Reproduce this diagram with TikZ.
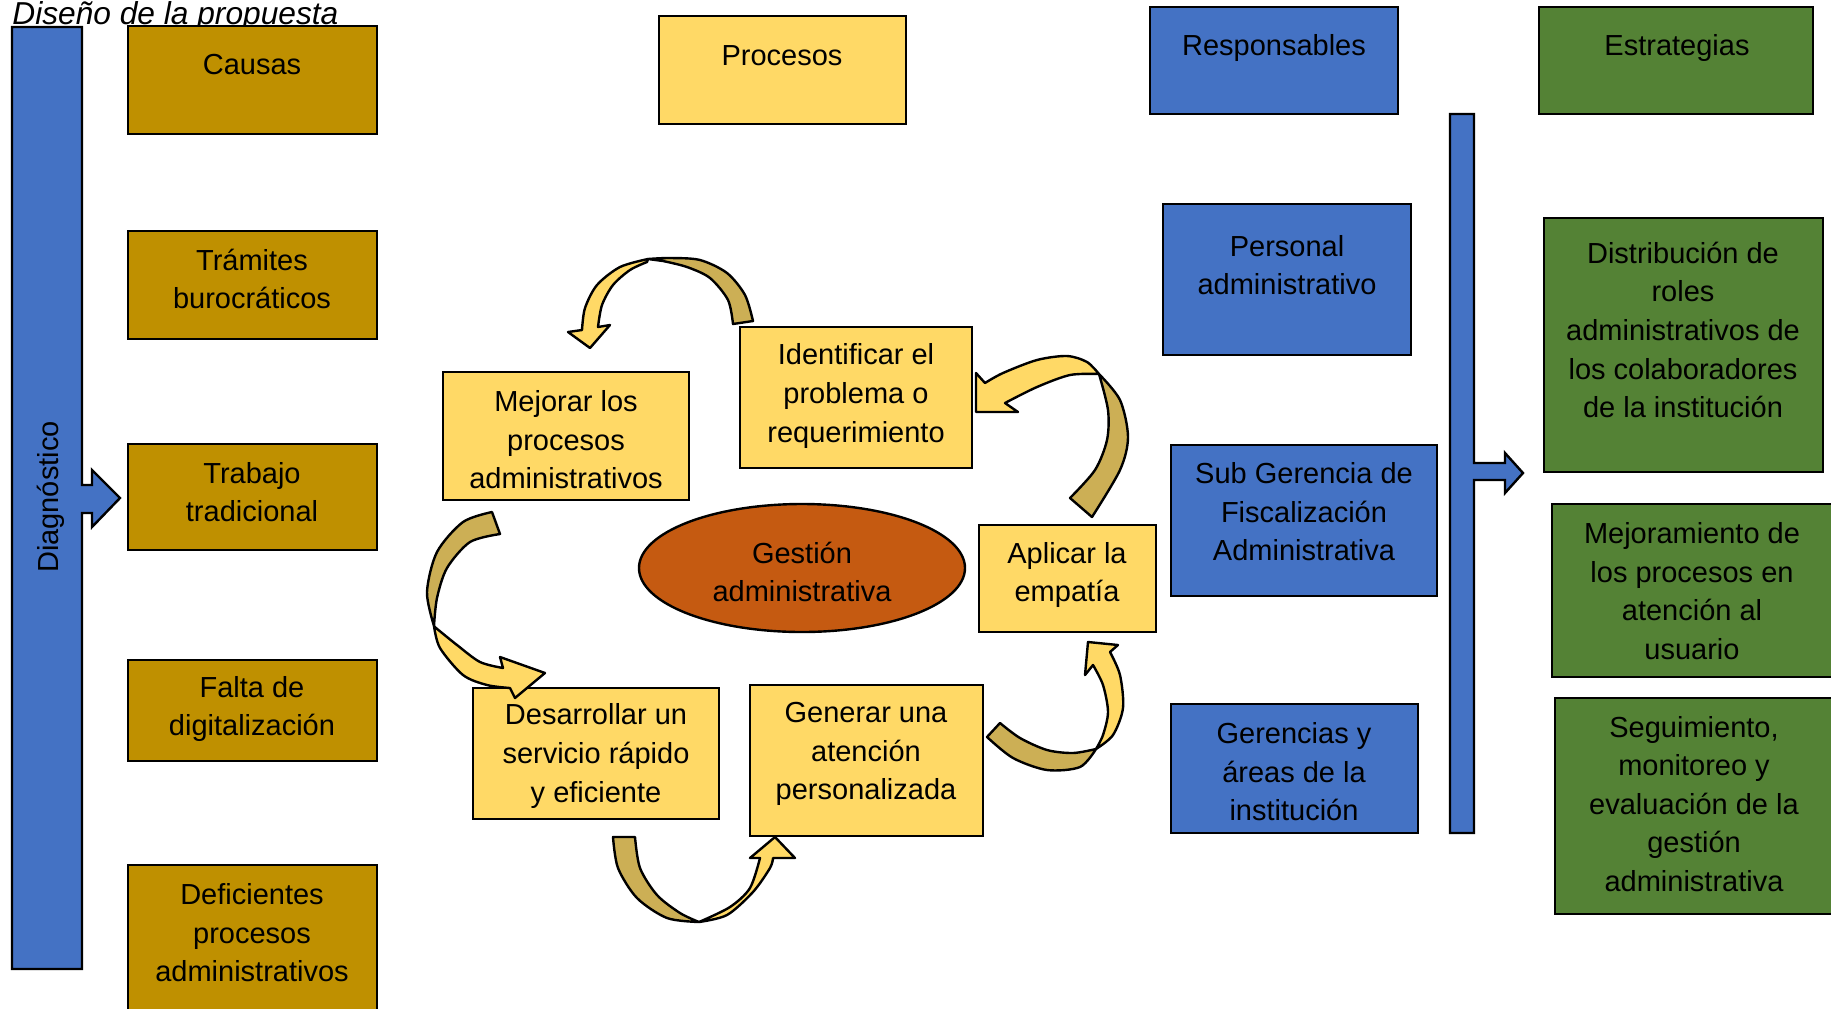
\documentclass[tikz,border=0pt]{standalone}
\usepackage{fontspec}
\setmainfont{Liberation Sans}
\usetikzlibrary{shapes.geometric,fit}
\definecolor{goldbox}{HTML}{BF9000}
\definecolor{procyel}{HTML}{FFD966}
\definecolor{blueb}{HTML}{4472C4}
\definecolor{greenb}{HTML}{548235}
\definecolor{ellor}{HTML}{C55A11}
\definecolor{arrdark}{HTML}{CCAF55}
\newcommand\mybox[6]{\node[#6,fit={(#2,#3) (#4,#5)}] (#1) {};}
\begin{document}
\begin{tikzpicture}[x=0.5pt,y=-0.5pt,
  box/.style={draw=black,line width=1.2pt,inner sep=0pt},
  causa/.style={box,fill=goldbox},
  proc/.style={box,fill=procyel},
  resp/.style={box,fill=blueb},
  estr/.style={box,fill=greenb},
  bar/.style={draw=black,line width=1.2pt,fill=blueb,line join=miter},
  txt/.style={align=center,font=\fontsize{14.5}{19.3}\selectfont,inner sep=0pt},
  arrback/.style={fill=arrdark,draw=black,line width=1.2pt,line join=round},
  arrfront/.style={fill=procyel,draw=black,line width=1.2pt,line join=round}]
\useasboundingbox (0,0) rectangle (1831,1008);
\fill[white] (0,0) rectangle (1831,1008);
\clip (0,0) rectangle (1831,1008);

% title
\node[font=\fontsize{15.85}{19}\selectfont\itshape,anchor=base west,inner sep=0pt] (title) at (12,24) {Diseño de la propuesta};

% left bar with arrow
\draw[bar] (12,27) -- (82,27) -- (82,485) -- (92,485) -- (92,470) -- (120,498) -- (92,527) -- (92,513) -- (82,513) -- (82,969) -- (12,969) -- cycle;
\node[txt,rotate=90] (diag) at (51,497) {Diagnóstico};

% right bar with arrow
\draw[bar] (1450,114) -- (1474,114) -- (1474,463) -- (1505,463) -- (1505,453) -- (1523,473) -- (1505,493) -- (1505,480) -- (1474,480) -- (1474,833) -- (1450,833) -- cycle;

% causes column
\mybox{causas}{128}{26}{377}{134}{causa}
\mybox{tramites}{128}{231}{377}{339}{causa}
\mybox{trabajo}{128}{444}{377}{550}{causa}
\mybox{falta}{128}{660}{377}{761}{causa}
\mybox{deficientes}{128}{865}{377}{1012}{causa}
\node[txt] (t-causas) at (252,65) {Causas};
\node[txt] (t-tramites) at (252,279) {Trámites\\burocráticos};
\node[txt] (t-trabajo) at (252,492) {Trabajo\\tradicional};
\node[txt] (t-falta) at (252,709) {Falta de\\digitalización};
\node[txt] (t-deficientes) at (252,933) {Deficientes\\procesos\\administrativos};

% headers
\mybox{procesos}{659}{16}{906}{124}{proc}
\mybox{responsables}{1150}{7}{1398}{114}{resp}
\mybox{estrategias}{1539}{7}{1813}{114}{estr}
\node[txt] (t-procesos) at (782,56) {Procesos};
\node[txt] (t-responsables) at (1274,48) {Responsables};
\node[txt] (t-estrategias) at (1677,48) {Estrategias};

% responsables
\mybox{personal}{1163}{204}{1411}{355}{resp}
\mybox{subgerencia}{1171}{445}{1437}{596}{resp}
\mybox{gerencias}{1171}{704}{1418}{833}{resp}
\node[txt] (t-personal) at (1287,265) {Personal\\administrativo};
\node[txt] (t-subgerencia) at (1304,512) {Sub Gerencia de\\Fiscalización\\Administrativa};
\node[txt] (t-gerencias) at (1294,772) {Gerencias y\\áreas de la\\institución};

% estrategias
\mybox{distribucion}{1544}{218}{1823}{472}{estr}
\mybox{mejoramiento}{1552}{504}{1832}{677}{estr}
\mybox{seguimiento}{1555}{698}{1832}{914}{estr}
\node[txt] (t-distribucion) at (1683,330) {Distribución de\\roles\\administrativos de\\los colaboradores\\de la institución};
\node[txt] (t-mejoramiento) at (1692,591) {Mejoramiento de\\los procesos en\\atención al\\usuario};
\node[txt] (t-seguimiento) at (1694,804) {Seguimiento,\\monitoreo y\\evaluación de la\\gestión\\administrativa};

% process cycle
\mybox{mejorar}{443}{372}{689}{500}{proc}
\mybox{identificar}{740}{327}{972}{468}{proc}
\mybox{aplicar}{979}{525}{1156}{632}{proc}
\mybox{desarrollar}{473}{688}{719}{819}{proc}
\mybox{generar}{750}{685}{983}{836}{proc}
\node[ellipse,draw=black,line width=1.2pt,fill=ellor,minimum width=163pt,minimum height=64pt,inner sep=0pt] (gestion) at (802,568) {};

% curved arrows
% A1: identificar -> mejorar
\draw[arrback] plot[smooth] coordinates {(753,321) (745,295) (727,273) (700,260) (670,258) (648,259)} -- plot[smooth] coordinates {(663,261) (687,267) (710,278) (728,300) (733,324)} -- cycle;
\draw[arrfront] plot[smooth] coordinates {(648,259) (620,267) (597,285) (585,308) (582,330)} -- (568,332) -- (590,348) -- (610,325) -- (598,327) -- plot[smooth] coordinates {(598,327) (602,305) (613,285) (630,270) (647,262)} -- cycle;
% A2: aplicar -> identificar
\draw[arrback] plot[smooth] coordinates {(1092,517) (1120,470) (1128,437) (1120,400) (1099,374)} -- plot[smooth] coordinates {(1099,374) (1108,410) (1107,440) (1095,470) (1070,498)} -- cycle;
\draw[arrfront] plot[smooth] coordinates {(1099,374) (1087,362) (1067,356) (1037,360) (1003,373) (985,383)} -- (976,373) -- (976,412) -- (1018,412) -- (1005,403) -- plot[smooth] coordinates {(1005,403) (1037,387) (1070,375) (1099,374)} -- cycle;
% A3: mejorar -> desarrollar
\draw[arrback] plot[smooth] coordinates {(492,512) (463,522) (437,552) (427,592) (434,626)} -- plot[smooth] coordinates {(434,626) (437,598) (447,568) (470,542) (500,534)} -- cycle;
\draw[arrfront] plot[smooth] coordinates {(434,626) (440,648) (463,675) (487,685) (510,688)} -- (515,698) -- (545,673) -- (500,657) -- (503,668) -- plot[smooth] coordinates {(503,668) (480,662) (457,645) (436,628)} -- cycle;
% A4: desarrollar -> generar
\draw[arrback] plot[smooth] coordinates {(613,837) (618,868) (637,898) (667,918) (699,922)} -- plot[smooth] coordinates {(699,922) (680,913) (657,895) (640,868) (635,837)} -- cycle;
\draw[arrfront] plot[smooth] coordinates {(699,922) (727,915) (753,892) (770,868) (773,858)} -- (795,858) -- (775,837) -- (750,858) -- (760,858) -- plot[smooth] coordinates {(760,858) (750,888) (730,907) (699,922)} -- cycle;
% A5: generar -> aplicar
\draw[arrback] plot[smooth] coordinates {(987,737) (1013,758) (1047,770) (1080,767) (1096,749)} -- plot[smooth] coordinates {(1096,749) (1073,753) (1047,750) (1020,738) (1000,723)} -- cycle;
\draw[arrfront] plot[smooth] coordinates {(1096,749) (1113,735) (1123,708) (1120,675) (1110,652)} -- (1118,645) -- (1088,642) -- (1085,675) -- (1093,665) -- plot[smooth] coordinates {(1093,665) (1103,685) (1108,712) (1103,735) (1096,749)} -- cycle;

% process texts
\node[txt] (t-mejorar) at (566,440) {Mejorar los\\procesos\\administrativos};
\node[txt] (t-identificar) at (856,396) {Identificar el\\problema o\\requerimiento};
\node[txt] (t-gestion) at (802,572) {Gestión\\administrativa};
\node[txt] (t-aplicar) at (1067,575) {Aplicar la\\empatía};
\node[txt] (t-desarrollar) at (596,756) {Desarrollar un\\servicio rápido\\y eficiente};
\node[txt] (t-generar) at (866,754) {Generar una\\atención\\personalizada};
\end{tikzpicture}
\end{document}
